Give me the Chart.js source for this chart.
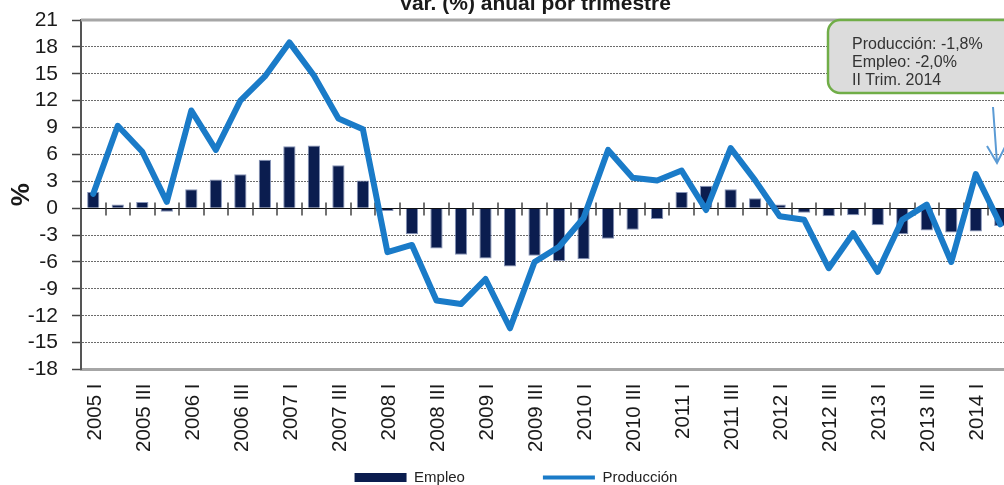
<!DOCTYPE html>
<html>
<head>
<meta charset="utf-8">
<script src="https://cdn.jsdelivr.net/npm/chart.js@4.4.0/dist/chart.umd.min.js"></script>
<style>
  html, body { margin: 0; padding: 0; background: #fff; overflow: hidden; }
  #wrap { position: relative; width: 1039px; height: 495px; }
</style>
</head>
<body>
<div id="wrap"><canvas id="chart" width="1039" height="495"></canvas></div>
<script>
const quarters = [
  "2005 I", "2005 II", "2005 III", "2005 IV",
  "2006 I", "2006 II", "2006 III", "2006 IV",
  "2007 I", "2007 II", "2007 III", "2007 IV",
  "2008 I", "2008 II", "2008 III", "2008 IV",
  "2009 I", "2009 II", "2009 III", "2009 IV",
  "2010 I", "2010 II", "2010 III", "2010 IV",
  "2011 I", "2011 II", "2011 III", "2011 IV",
  "2012 I", "2012 II", "2012 III", "2012 IV",
  "2013 I", "2013 II", "2013 III", "2013 IV",
  "2014 I", "2014 II"
];

// Empleo, var. % anual
const empleo = [
  1.8, 0.4, 0.7, -0.4,
  2.1, 3.2, 3.8, 5.4,
  6.9, 7.0, 4.8, 3.1,
  -0.3, -2.9, -4.5, -5.2,
  -5.6, -6.5, -5.3, -5.9,
  -5.7, -3.4, -2.4, -1.2,
  1.8, 2.5, 2.1, 1.1,
  0.4, -0.5, -0.9, -0.8,
  -1.9, -2.9, -2.5, -2.7,
  -2.6, -2.0
];

// Produccion, var. % anual
const produccion = [
  1.6, 9.2, 6.3, 0.7,
  10.9, 6.5, 12.0, 14.7,
  18.5, 14.8, 10.0, 8.8,
  -4.9, -4.1, -10.3, -10.7,
  -7.9, -13.4, -6.0, -4.3,
  -1.1, 6.5, 3.4, 3.1,
  4.2, -0.2, 6.7, 3.1,
  -0.9, -1.3, -6.7, -2.8,
  -7.1, -1.3, 0.4, -6.0,
  3.8, -1.8
];

const yMin = -18, yMax = 21, yStep = 3;

const font = "'Liberation Sans', Arial, sans-serif";
const navy = "#0b1d4f";
const blue = "#1a7bc8";

const fmt = v => v.toFixed(1).replace(".", ",");

const extras = {
  id: "extras",
  beforeDatasetsDraw(chart) {
    const { ctx, chartArea: a, scales: { x, y } } = chart;
    const y0 = Math.round(y.getPixelForValue(0)) + 0.5;
    ctx.save();
    ctx.strokeStyle = "#111";
    ctx.lineWidth = 1;
    ctx.beginPath();
    ctx.moveTo(a.left, y0);
    ctx.lineTo(a.right, y0);
    ctx.stroke();
    // marcas entre trimestres
    ctx.strokeStyle = "#444";
    ctx.lineWidth = 1.5;
    ctx.beginPath();
    for (let i = 1; i < quarters.length; i++) {
      const bx = Math.round((x.getPixelForValue(i - 1) + x.getPixelForValue(i)) / 2);
      ctx.moveTo(bx, y0 - 6);
      ctx.lineTo(bx, y0 + 7);
    }
    ctx.stroke();
    // borde superior
    ctx.strokeStyle = "#a6a6a6";
    ctx.lineWidth = 3;
    ctx.beginPath();
    ctx.moveTo(a.left, a.top);
    ctx.lineTo(a.right, a.top);
    ctx.stroke();
    ctx.restore();
  },
  afterDraw(chart) {
    const { ctx } = chart;
    ctx.save();
    // titulo (cortado arriba como en el original)
    ctx.fillStyle = "#1a1a1a";
    ctx.font = "bold 21px " + font;
    ctx.textAlign = "center";
    ctx.textBaseline = "alphabetic";
    ctx.fillText("Var. (%) anual por trimestre", 535, 10);

    // recuadro de la nota
    ctx.beginPath();
    ctx.roundRect(828, 20, 190, 73, 12);
    ctx.fillStyle = "#dcdcdc";
    ctx.fill();
    ctx.strokeStyle = "#70ad47";
    ctx.lineWidth = 2.5;
    ctx.stroke();

    const last = quarters[quarters.length - 1].split(" ");
    ctx.fillStyle = "#333";
    ctx.font = "16px " + font;
    ctx.textAlign = "left";
    ctx.fillText("Producción: " + fmt(produccion[produccion.length - 1]) + "%", 852, 49);
    ctx.fillText("Empleo: " + fmt(empleo[empleo.length - 1]) + "%", 852, 67);
    ctx.fillText(last[1] + " Trim. " + last[0], 852, 85);

    // flecha
    ctx.strokeStyle = "#5b9bd5";
    ctx.lineWidth = 2;
    ctx.beginPath();
    ctx.moveTo(993, 107);
    ctx.lineTo(997, 163);
    ctx.moveTo(987, 146);
    ctx.lineTo(997, 163);
    ctx.lineTo(1005, 147);
    ctx.stroke();
    ctx.restore();
  }
};

new Chart(document.getElementById("chart"), {
  data: {
    labels: quarters,
    datasets: [
      {
        type: "bar",
        label: "Empleo",
        data: empleo,
        backgroundColor: navy,
        borderColor: "rgba(120,135,175,0.9)",
        borderWidth: 1,
        barPercentage: 0.5,
        categoryPercentage: 1.0,
        order: 1
      },
      {
        type: "line",
        label: "Producción",
        data: produccion,
        borderColor: blue,
        backgroundColor: blue,
        borderWidth: 6,
        pointRadius: 0,
        tension: 0,
        fill: false,
        borderJoinStyle: "round",
        borderCapStyle: "round",
        order: 0
      }
    ]
  },
  options: {
    responsive: false,
    animation: false,
    devicePixelRatio: 1,
    layout: { padding: { top: 20, left: 0, right: 7, bottom: 0 } },
    plugins: {
      tooltip: { enabled: false },
      legend: {
        position: "bottom",
        labels: {
          usePointStyle: true,
          pointStyleWidth: 52,
          boxHeight: 9,
          padding: 9.25,
          color: "#222",
          font: { family: font, size: 15 },
          generateLabels: chart => {
            const items = chart.data.datasets.map((ds, i) => ({
              text: ds.label,
              datasetIndex: i,
              hidden: false,
              fillStyle: ds.type === "bar" ? ds.backgroundColor : ds.borderColor,
              strokeStyle: ds.type === "bar" ? ds.backgroundColor : ds.borderColor,
              lineWidth: ds.type === "bar" ? 0 : 4,
              pointStyle: ds.type === "bar" ? "rect" : "line",
              fontColor: "#222"
            }));
            // hueco entre las dos entradas
            items.splice(1, 0, {
              text: "", hidden: false, fillStyle: "rgba(0,0,0,0)",
              strokeStyle: "rgba(0,0,0,0)", lineWidth: 0, pointStyle: "rect"
            });
            return items;
          }
        }
      }
    },
    scales: {
      x: {
        offset: true,
        grid: { display: false, drawTicks: false },
        border: { color: "#a6a6a6", width: 3 },
        ticks: {
          autoSkip: false,
          maxRotation: 90,
          minRotation: 90,
          padding: 14,
          labelOffset: 2,
          color: "#1a1a1a",
          font: { family: font, size: 20.5 },
          callback: (v, i) => (i % 2 === 0 ? quarters[i] : "")
        },
        afterFit: s => { s.height = 91.25; }
      },
      y: {
        min: yMin,
        max: yMax,
        ticks: {
          stepSize: yStep,
          autoSkip: false,
          padding: 14,
          color: "#1a1a1a",
          font: { family: font, size: 21, lineHeight: 0.5 }
        },
        grid: {
          color: c => ([0, yMin, yMax].includes(c.tick && c.tick.value) ? "rgba(0,0,0,0)" : "#6b6b6b"),
          lineWidth: 1,
          tickLength: 9,
          tickColor: "#444",
          tickWidth: 1.5
        },
        border: { color: "#555", width: 2, dash: [2, 1] },
        title: {
          display: true,
          text: "%",
          color: "#1a1a1a",
          font: { family: font, size: 26, weight: "bold", lineHeight: 1 },
          padding: { top: 9, bottom: 0 }
        },
        afterFit: s => { s.width = 81; }
      }
    }
  },
  plugins: [extras]
});
</script>
</body>
</html>
